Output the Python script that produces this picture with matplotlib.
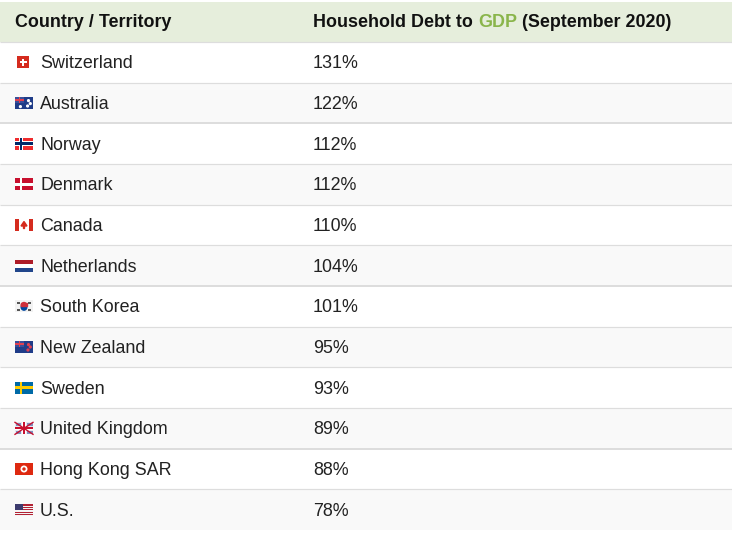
import matplotlib
matplotlib.use("Agg")
import matplotlib.pyplot as plt
from matplotlib.patches import Rectangle, Circle, Polygon

plt.rcParams['font.family'] = ['Liberation Sans', 'DejaVu Sans']

countries = ["Switzerland", "Australia", "Norway", "Denmark", "Canada", "Netherlands",
             "South Korea", "New Zealand", "Sweden", "United Kingdom", "Hong Kong SAR", "U.S."]
debt_pct = [131, 122, 112, 112, 110, 104, 101, 95, 93, 89, 88, 78]
flag_codes = ["ch", "au", "no", "dk", "ca", "nl", "kr", "nz", "se", "gb", "hk", "us"]
header_left = "Country / Territory"
header_right = ["Household Debt to ", "GDP", " (September 2020)"]

W, H = 732, 534
fig = plt.figure(figsize=(W / 100, H / 100), dpi=100)
ax = fig.add_axes([0, 0, 1, 1])
ax.set_xlim(0, W)
ax.set_ylim(H, 0)
ax.axis("off")

TABLE_L, TABLE_R = 0, W
HEAD_T, HEAD_B = 2, 42
ROW_H = (530 - HEAD_B) / len(countries)
COL2_X = 313
TEXT_X = 40
FS = 12.9
TXT = "#222222"

# header
ax.add_patch(Rectangle((TABLE_L, HEAD_T), TABLE_R - TABLE_L, HEAD_B - HEAD_T,
                       facecolor="#e6eedc", edgecolor="none"))
hy = (HEAD_T + HEAD_B) / 2 + 0.5
ax.text(15, hy, header_left, fontsize=FS, fontweight="bold", color="#111111",
        va="center", ha="left")
renderer = fig.canvas.get_renderer()
x = COL2_X
for part, col in zip(header_right, ["#111111", "#8ab54b", "#111111"]):
    t = ax.text(x, hy, part, fontsize=FS, fontweight="bold", color=col, va="center", ha="left")
    bb = t.get_window_extent(renderer=renderer)
    x += bb.width


def rect(x0, y0, w, h, c):
    ax.add_patch(Rectangle((x0, y0), w, h, facecolor=c, edgecolor="none", zorder=3))


def draw_flag(code, fx, fy, fw=18, fh=12):
    if code == "ch":
        rect(fx + 2, fy, fh, fh, "#d52b1e")
        cx, cy = fx + 2 + fh / 2, fy + fh / 2
        rect(cx - 1, cy - 3.5, 2, 7, "white")
        rect(cx - 3.5, cy - 1, 7, 2, "white")
    elif code in ("au", "nz"):
        rect(fx, fy, fw, fh, "#1f3c88")
        rect(fx, fy, fw * 0.5, fh * 0.5, "#3a4f9a")
        rect(fx, fy + fh * 0.2, fw * 0.5, fh * 0.12, "#e04050")
        rect(fx + fw * 0.2, fy, fw * 0.1, fh * 0.5, "#e04050")
        rect(fx, fy + fh * 0.17, fw * 0.5, fh * 0.03, "white")
        stars = [(0.75, 0.3), (0.85, 0.55), (0.7, 0.75), (0.3, 0.8)] if code == "au" else \
                [(0.75, 0.3), (0.85, 0.5), (0.72, 0.75)]
        for sx, sy in stars:
            ax.add_patch(Circle((fx + fw * sx, fy + fh * sy), 0.9,
                                color="white" if code == "au" else "#e04050", zorder=4))
    elif code in ("no", "dk", "se"):
        bg, cross = {"no": ("#ef2b2d", "#002868"), "dk": ("#c8102e", "white"),
                     "se": ("#006aa7", "#fecc00")}[code]
        rect(fx, fy, fw, fh, bg)
        if code == "no":
            rect(fx, fy + 3.8, fw, 4.4, "white")
            rect(fx + 4, fy, 4.4, fh, "white")
        rect(fx, fy + 4.8, fw, 2.4, cross)
        rect(fx + 5, fy, 2.4, fh, cross)
    elif code == "ca":
        rect(fx, fy, fw, fh, "white")
        rect(fx, fy, 4.4, fh, "#d52b1e")
        rect(fx + fw - 4.4, fy, 4.4, fh, "#d52b1e")
        cx, cy = fx + fw / 2, fy + fh / 2
        ax.add_patch(Polygon([(cx, cy - 3.5), (cx + 3, cy + 1), (cx + 0.5, cy + 1),
                              (cx + 0.5, cy + 3.5), (cx - 0.5, cy + 3.5), (cx - 0.5, cy + 1),
                              (cx - 3, cy + 1)], closed=True, color="#d52b1e", zorder=4))
    elif code == "nl":
        rect(fx, fy, fw, fh / 3, "#ae1c28")
        rect(fx, fy + fh / 3, fw, fh / 3, "white")
        rect(fx, fy + 2 * fh / 3, fw, fh / 3, "#21468b")
    elif code == "kr":
        rect(fx, fy, fw, fh, "#f2f2f2")
        cx, cy = fx + fw / 2, fy + fh / 2
        ax.add_patch(Circle((cx, cy - 1), 2.8, color="#cd2e3a", zorder=4))
        ax.add_patch(Circle((cx, cy + 1), 2.8, color="#0047a0", zorder=4))
        ax.add_patch(Rectangle((cx - 2.8, cy - 3.0), 5.6, 2.9, color="#cd2e3a", zorder=4))
        for dx, dy in [(-5.5, -3.5), (5.5, -3.5), (-5.5, 3.5), (5.5, 3.5)]:
            rect(cx + dx - 1.3, cy + dy - 1, 2.6, 2, "#555555")
    elif code == "gb":
        rect(fx, fy, fw, fh, "#e8e8f0")
        ax.plot([fx, fx + fw], [fy, fy + fh], color="#c8102e", lw=1.0, zorder=4)
        ax.plot([fx, fx + fw], [fy + fh, fy], color="#c8102e", lw=1.0, zorder=4)
        for qx, qy in [(0, 0), (0.62, 0), (0, 0.62), (0.62, 0.62)]:
            rect(fx + fw * qx + 1, fy + fh * qy + 0.8, fw * 0.3, fh * 0.28, "#8090c0")
        rect(fx, fy + fh / 2 - 1.6, fw, 3.2, "white")
        rect(fx + fw / 2 - 1.6, fy, 3.2, fh, "white")
        rect(fx, fy + fh / 2 - 1, fw, 2, "#c8102e")
        rect(fx + fw / 2 - 1, fy, 2, fh, "#c8102e")
    elif code == "hk":
        rect(fx, fy, fw, fh, "#de2910")
        ax.add_patch(Circle((fx + fw / 2, fy + fh / 2), 2.8, color="white", zorder=4))
        ax.add_patch(Circle((fx + fw / 2, fy + fh / 2), 1.0, color="#de2910", zorder=5))
    elif code == "us":
        for i in range(7):
            rect(fx, fy + i * fh / 7, fw, fh / 14, "#b22234")
            rect(fx, fy + i * fh / 7 + fh / 14, fw, fh / 14, "#f4f4f4")
        rect(fx, fy, fw * 0.45, fh * 0.54, "#3c3b6e")


for i, (name, val, code) in enumerate(zip(countries, debt_pct, flag_codes)):
    top = HEAD_B + i * ROW_H
    bg = "white" if i % 2 == 0 else "#f9f9f9"
    ax.add_patch(Rectangle((TABLE_L, top), TABLE_R - TABLE_L, ROW_H,
                           facecolor=bg, edgecolor="none", zorder=1))
    lw = 2.0 if i in (2, 6, 10) else 1.2
    ax.plot([TABLE_L, TABLE_R], [top, top], color="#dddddd", lw=lw * 0.72, zorder=2,
            solid_capstyle="butt")
    cy = top + ROW_H / 2
    draw_flag(code, 15, cy - 6.0)
    ax.text(TEXT_X, cy + 1.5, name, fontsize=FS, color=TXT, va="center", ha="left")
    ax.text(COL2_X, cy + 1.5, f"{val}%", fontsize=FS, color=TXT, va="center", ha="left")

fig.savefig("out.png", dpi=100)
